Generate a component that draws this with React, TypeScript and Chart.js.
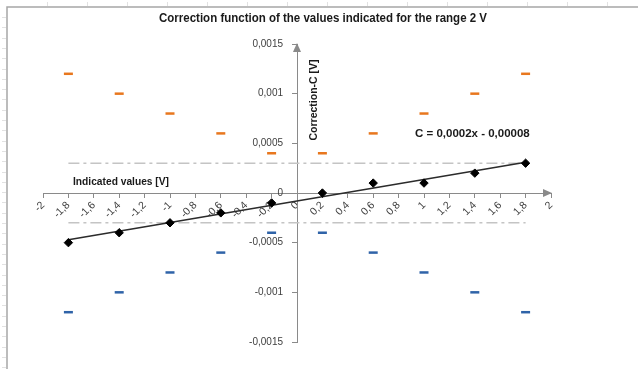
import React, { useEffect, useRef } from "react";
import { Chart, registerables } from "chart.js";

Chart.register(...registerables);

// ---- data ----
const xValues = [-1.8, -1.4, -1, -0.6, -0.2, 0.2, 0.6, 1, 1.4, 1.8];
const corrections = [-0.0005, -0.0004, -0.0003, -0.0002, -0.0001, 0, 0.0001, 0.0001, 0.0002, 0.0003];
const upperLimits = [0.0012, 0.001, 0.0008, 0.0006, 0.0004, 0.0004, 0.0006, 0.0008, 0.001, 0.0012];
const lowerLimits = [-0.0012, -0.001, -0.0008, -0.0006, -0.0004, -0.0004, -0.0006, -0.0008, -0.001, -0.0012];
const trendX = [-1.8, 1.8];
const trendY = [-0.00047, 0.00031];
const bandX = [-1.8, 1.8];
const bandUpper = [0.0003, 0.0003];
const bandLower = [-0.0003, -0.0003];

const xTickValues = [-2, -1.8, -1.6, -1.4, -1.2, -1, -0.8, -0.6, -0.4, -0.2, 0, 0.2, 0.4, 0.6, 0.8, 1, 1.2, 1.4, 1.6, 1.8, 2];
const xTickLabels = ["-2", "-1,8", "-1,6", "-1,4", "-1,2", "-1", "-0,8", "-0,6", "-0,4", "-0,2", "0", "0,2", "0,4", "0,6", "0,8", "1", "1,2", "1,4", "1,6", "1,8", "2"];
const yTickValues = [-0.0015, -0.001, -0.0005, 0, 0.0005, 0.001, 0.0015];
const yTickLabels = ["-0,0015", "-0,001", "-0,0005", "0", "0,0005", "0,001", "0,0015"];

const titleText = "Correction function of the values indicated for the range 2 V";
const xAxisTitle = "Indicated values [V]";
const yAxisTitle = "Correction-C [V]";
const equationText = "C = 0,0002x - 0,00008";

const FONT = "'Liberation Sans', Arial, sans-serif";
const AXIS_COLOR = "#8a8a8a";
const LABEL_COLOR = "#404040";

const toPoints = (xs: number[], ys: number[]) => xs.map((x, i) => ({ x, y: ys[i] }));

const xLabelFor = (v: number) => {
  const idx = xTickValues.findIndex((t) => Math.abs(t - v) < 1e-9);
  return idx >= 0 ? xTickLabels[idx] : "";
};

const overlayPlugin = {
  id: "overlay",
  beforeDraw(chart: any) {
    const ctx = chart.ctx;
    ctx.save();
    ctx.fillStyle = "#ffffff";
    ctx.fillRect(0, 0, chart.width, chart.height);
    // sheet frame
    ctx.strokeStyle = "#a6a6a6";
    ctx.lineWidth = 1.5;
    ctx.beginPath();
    ctx.moveTo(7, chart.height);
    ctx.lineTo(7, 7);
    ctx.lineTo(chart.width, 7);
    ctx.stroke();
    ctx.strokeStyle = "#e2e2e2";
    ctx.lineWidth = 1;
    ctx.beginPath();
    for (let y = 17; y < chart.height; y += 10.3) {
      ctx.moveTo(2, Math.round(y) + 0.5);
      ctx.lineTo(6, Math.round(y) + 0.5);
    }
    for (let x = 47; x < chart.width; x += 40) {
      ctx.moveTo(Math.round(x) + 0.5, 2);
      ctx.lineTo(Math.round(x) + 0.5, 6);
    }
    ctx.stroke();
    ctx.restore();
  },
  afterDraw(chart: any) {
    const ctx = chart.ctx;
    const xs = chart.scales.x;
    const ys = chart.scales.y;
    const x0 = xs.getPixelForValue(0);
    const y0 = ys.getPixelForValue(0);
    ctx.save();
    // arrows
    ctx.fillStyle = AXIS_COLOR;
    const xEnd = xs.getPixelForValue(2);
    ctx.beginPath();
    ctx.moveTo(xEnd + 1, y0);
    ctx.lineTo(xEnd - 8, y0 - 4);
    ctx.lineTo(xEnd - 8, y0 + 4);
    ctx.closePath();
    ctx.fill();
    const yTop = ys.getPixelForValue(0.0015);
    ctx.beginPath();
    ctx.moveTo(x0, yTop - 1);
    ctx.lineTo(x0 - 4, yTop + 8);
    ctx.lineTo(x0 + 4, yTop + 8);
    ctx.closePath();
    ctx.fill();

    // y tick labels
    ctx.fillStyle = LABEL_COLOR;
    ctx.font = `10px ${FONT}`;
    ctx.textAlign = "right";
    ctx.textBaseline = "middle";
    yTickValues.forEach((v, i) => {
      ctx.fillText(yTickLabels[i], x0 - 14, ys.getPixelForValue(v));
    });

    // title
    ctx.fillStyle = "#1a1a1a";
    ctx.font = `bold 12px ${FONT}`;
    ctx.textAlign = "center";
    ctx.textBaseline = "middle";
    ctx.fillText(titleText, 323, 19, 328);

    // x axis title
    ctx.font = `bold 10.5px ${FONT}`;
    ctx.textAlign = "left";
    ctx.fillText(xAxisTitle, 73, 182, 96);

    // y axis title (vertical)
    ctx.save();
    ctx.translate(314, 100);
    ctx.rotate(-Math.PI / 2);
    ctx.textAlign = "center";
    ctx.font = `bold 10.5px ${FONT}`;
    ctx.fillText(yAxisTitle, 0, 0, 90);
    ctx.restore();

    // equation
    ctx.font = `bold 11.5px ${FONT}`;
    ctx.textAlign = "left";
    ctx.fillText(equationText, 415, 134, 119);
    ctx.restore();
  },
};

export default function App() {
  const canvasRef = useRef<HTMLCanvasElement | null>(null);

  useEffect(() => {
    if (!canvasRef.current) return;
    const chart = new Chart(canvasRef.current, {
      type: "scatter",
      data: {
        datasets: [
          {
            label: "Correction",
            data: toPoints(xValues, corrections),
            pointStyle: "rectRot",
            pointRadius: 4.2,
            backgroundColor: "#000000",
            borderColor: "#000000",
            borderWidth: 1,
          },
          {
            label: "Trend",
            data: toPoints(trendX, trendY),
            showLine: true,
            pointRadius: 0,
            borderColor: "#2b2b2b",
            borderWidth: 1.6,
          },
          {
            label: "Upper limit",
            data: toPoints(xValues, upperLimits),
            pointStyle: "line",
            pointRadius: 4.5,
            borderColor: "#e8771e",
            backgroundColor: "#e8771e",
            borderWidth: 2.5,
          },
          {
            label: "Lower limit",
            data: toPoints(xValues, lowerLimits),
            pointStyle: "line",
            pointRadius: 4.5,
            borderColor: "#2f63a8",
            backgroundColor: "#2f63a8",
            borderWidth: 2.5,
          },
          {
            label: "Band upper",
            data: toPoints(bandX, bandUpper),
            showLine: true,
            pointRadius: 0,
            borderColor: "#c4c4c4",
            borderWidth: 1.5,
            borderDash: [11, 4, 3, 4],
          },
          {
            label: "Band lower",
            data: toPoints(bandX, bandLower),
            showLine: true,
            pointRadius: 0,
            borderColor: "#c4c4c4",
            borderWidth: 1.5,
            borderDash: [11, 4, 3, 4],
          },
        ],
      },
      options: {
        animation: false,
        responsive: false,
        maintainAspectRatio: false,
        events: [],
        layout: { padding: { left: 43, right: 87, top: 44, bottom: 27 } },
        plugins: {
          legend: { display: false },
          title: { display: false },
          tooltip: { enabled: false },
        },
        scales: {
          x: {
            type: "linear",
            min: -2,
            max: 2,
            position: { y: 0 } as any,
            afterBuildTicks: (scale: any) => {
              scale.ticks = xTickValues.map((v) => ({ value: v }));
            },
            ticks: {
              autoSkip: false,
              minRotation: 45,
              maxRotation: 45,
              padding: 2,
              color: LABEL_COLOR,
              font: { family: FONT, size: 10.5 },
              callback: (v: any) => xLabelFor(Number(v)),
            },
            grid: {
              drawOnChartArea: false,
              drawTicks: true,
              tickLength: 4,
              color: AXIS_COLOR,
            },
            border: { display: true, color: AXIS_COLOR, width: 1 },
          },
          y: {
            type: "linear",
            min: -0.0015,
            max: 0.0015,
            position: { x: 0 } as any,
            afterBuildTicks: (scale: any) => {
              scale.ticks = yTickValues.map((v) => ({ value: v }));
            },
            ticks: { display: false },
            grid: {
              drawOnChartArea: false,
              drawTicks: true,
              tickLength: 5,
              color: AXIS_COLOR,
            },
            border: { display: true, color: AXIS_COLOR, width: 1 },
          },
        },
      },
      plugins: [overlayPlugin],
    });
    return () => chart.destroy();
  }, []);

  return (
    <div style={{ position: "fixed", left: 0, top: 0, width: 638, height: 369, background: "#fff" }}>
      <canvas ref={canvasRef} width={638} height={369} style={{ display: "block" }} />
    </div>
  );
}
